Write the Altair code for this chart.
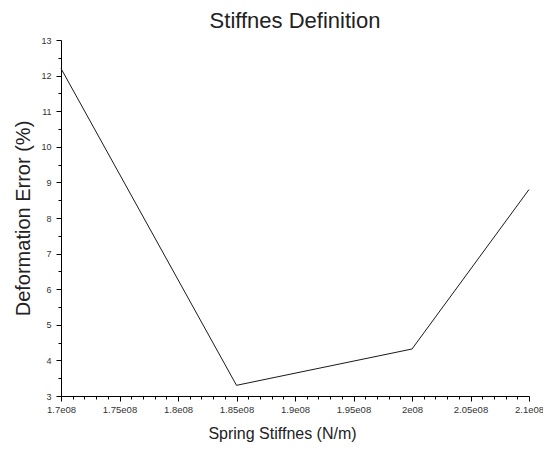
import altair as alt
import pandas as pd

stiffness = [1.70e8, 1.85e8, 2.00e8, 2.10e8]
error_pct = [12.2, 3.3, 4.32, 8.8]

x_ticks = [round(1.70e8 + i * 1e6) for i in range(41)]
y_ticks = [3 + i * 0.5 for i in range(21)]

df = pd.DataFrame({"k": stiffness, "err": error_pct})

FONT = "Liberation Sans"

chart = alt.Chart(df).mark_line(color="#1a1a1a", strokeWidth=1).encode(
    x=alt.X(
        "k:Q",
        scale=alt.Scale(domain=[1.7e8, 2.1e8], nice=False, zero=False),
        axis=alt.Axis(
            title="Spring Stiffnes (N/m)",
            values=x_ticks,
            labelExpr="round(datum.value/1e6) % 5 === 0 ? format(datum.value/1e8, '.3~f') + 'e08' : ''",
            tickSize={"condition": {"test": "round(datum.value/1e6) % 5 === 0", "value": 5}, "value": 3},
            grid=False,
            labelFont=FONT, labelFontSize=9.5, labelColor="#333333", labelPadding=3,
            labelOverlap=False, labelFlush=False,
            titleFont=FONT, titleFontSize=16, titleFontWeight="normal", titleColor="#222222",
            titleX=221, titleY=42, titleBaseline="alphabetic", titleAnchor="start", titleAlign="center",
            domainColor="#000000", tickColor="#000000",
        ),
    ),
    y=alt.Y(
        "err:Q",
        scale=alt.Scale(domain=[3, 13], nice=False, zero=False),
        axis=alt.Axis(
            title="Deformation Error (%)",
            values=y_ticks,
            labelExpr="datum.value % 1 === 0 ? format(datum.value, 'd') : ''",
            tickSize={"condition": {"test": "datum.value % 1 === 0", "value": 5}, "value": 3},
            grid=False,
            labelFont=FONT, labelFontSize=9, labelColor="#333333", labelPadding=5,
            labelOverlap=False,
            titleFont=FONT, titleFontSize=20, titleFontWeight="normal", titleColor="#222222",
            titleX=-38, titleY=178, titleBaseline="middle", titleAlign="center", titleAngle=-90,
            domainColor="#000000", tickColor="#000000",
        ),
    ),
).properties(
    width=468,
    height=356,
    title=alt.TitleParams(
        "Stiffnes Definition", font=FONT, fontSize=22, fontWeight="normal",
        color="#222222", anchor="middle", offset=3,
    ),
    autosize=alt.AutoSizeParams(type="none"),
    padding={"left": 53, "top": 32, "right": 14, "bottom": 46},
).configure_view(stroke=None)

chart.save("out.html", embed_options={"renderer": "svg", "actions": False})
